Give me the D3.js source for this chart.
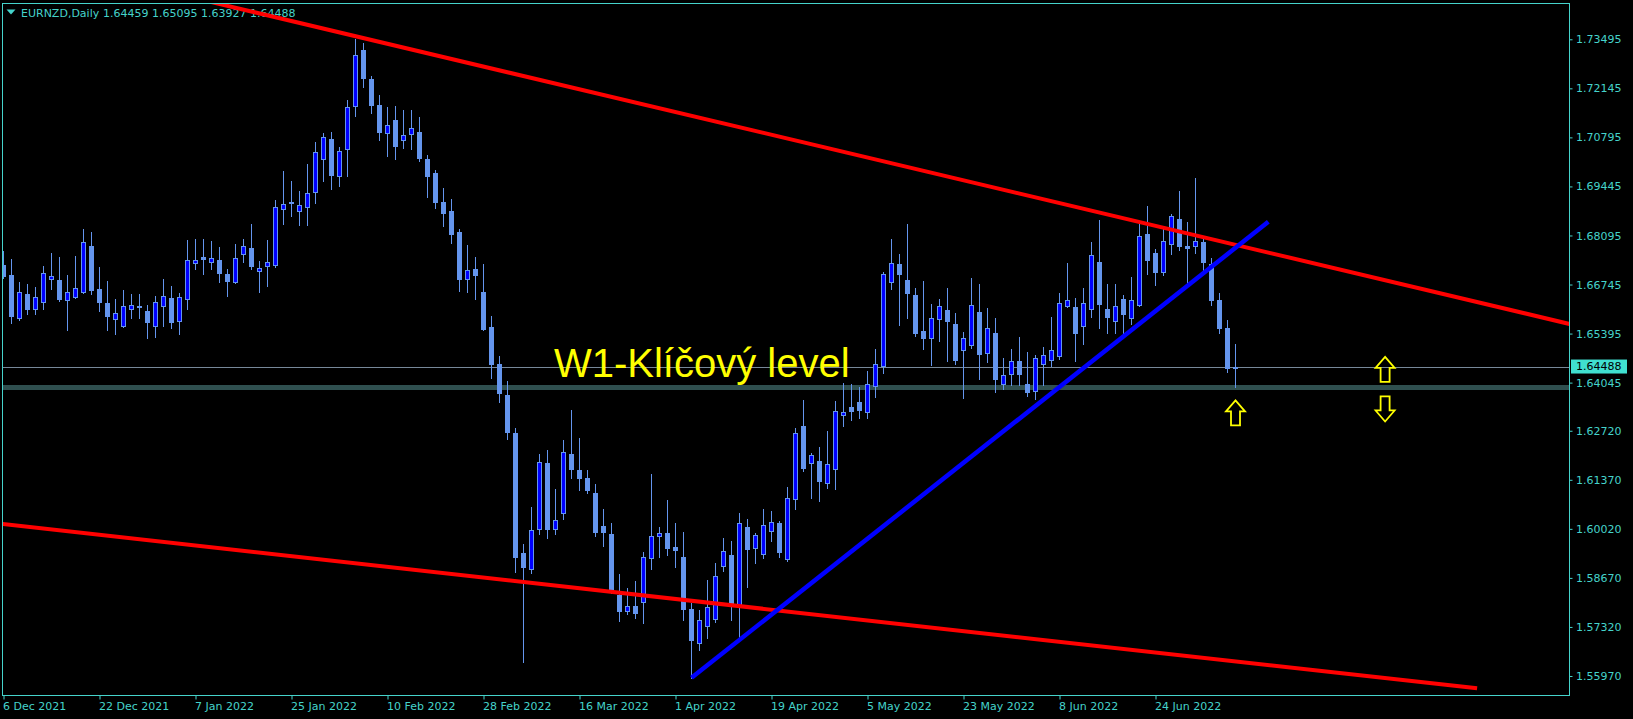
<!DOCTYPE html>
<html><head><meta charset="utf-8">
<script src="https://cdn.jsdelivr.net/npm/d3@7"></script>
<style>html,body{margin:0;padding:0;background:#000;overflow:hidden}</style>
</head><body>
<svg id="chart" width="1633" height="719"></svg>
<script>
// ---------------- data ----------------
const symbolTitle = "EURNZD,Daily";
const lastBar = [1.64459, 1.65095, 1.63927, 1.64488];
const open = [1.6728,1.6701,1.6581,1.6649,1.6608,1.6626,1.6691,1.6687,1.6631,1.6639,
1.6655,1.6781,1.6662,1.6624,1.6579,1.6560,1.6606,1.6615,1.6602,1.6560,
1.6616,1.6637,1.6573,1.6636,1.6735,1.6750,1.6737,1.6741,1.6703,1.6682,
1.6759,1.6775,1.6711,1.6725,1.6729,1.6882,1.6902,1.6876,1.6887,1.6930,
1.7019,1.7075,1.6974,1.7047,1.7165,1.7320,1.7240,1.7169,1.7091,1.7127,
1.7071,1.7088,1.7094,1.7020,1.6982,1.6902,1.6877,1.6819,1.6691,1.6717,
1.6654,1.6558,1.6456,1.6370,1.6266,1.5936,1.5892,1.6001,1.6183,1.6001,
1.6045,1.6208,1.6164,1.6142,1.6101,1.6010,1.5988,1.5820,1.5777,1.5790,
1.5800,1.5921,1.5981,1.5990,1.5952,1.5925,1.5781,1.5689,1.5735,1.5755,
1.5899,1.5930,1.5792,1.6006,1.5950,1.5932,1.5995,1.6017,1.5918,1.6083,
1.6285,1.6182,1.6189,1.6127,1.6166,1.6315,1.6338,1.6351,1.6324,1.6394,
1.6450,1.6681,1.6731,1.6687,1.6646,1.6547,1.6526,1.6579,1.6604,1.6566,
1.6494,1.6507,1.6599,1.6485,1.6540,1.6400,1.6428,1.6463,1.6401,1.6381,
1.6455,1.6466,1.6477,1.6615,1.6613,1.6560,1.6606,1.6736,1.6607,1.6573,
1.6634,1.6582,1.6619,1.6814,1.6760,1.6708,1.6785,1.6854,1.6780,1.6780,
1.6792,1.6731,1.6632,1.6555,1.64459];
const high = [1.6767,1.6745,1.6682,1.6676,1.6668,1.6726,1.6761,1.6750,1.6701,1.6753,
1.6827,1.6819,1.6723,1.6684,1.6635,1.6660,1.6649,1.6649,1.6618,1.6643,
1.6690,1.6671,1.6651,1.6797,1.6800,1.6800,1.6794,1.6778,1.6717,1.6786,
1.6800,1.6841,1.6739,1.6797,1.6907,1.6987,1.6959,1.6932,1.7006,1.7067,
1.7091,1.7094,1.7053,1.7183,1.7350,1.7339,1.7249,1.7196,1.7162,1.7166,
1.7155,1.7155,1.7136,1.7031,1.6990,1.6940,1.6910,1.6827,1.6783,1.6750,
1.6731,1.6588,1.6478,1.6409,1.6279,1.5960,1.6062,1.6208,1.6219,1.6112,
1.6247,1.6329,1.6252,1.6164,1.6126,1.6057,1.6018,1.5878,1.5839,1.5858,
1.5938,1.6153,1.6007,1.6081,1.6017,1.5993,1.5798,1.5779,1.5861,1.5908,
1.5977,1.5969,1.6046,1.6029,1.5990,1.6057,1.6051,1.6023,1.6117,1.6280,
1.6357,1.6211,1.6227,1.6271,1.6354,1.6403,1.6401,1.6393,1.6437,1.6497,
1.6709,1.6800,1.6759,1.6841,1.6665,1.6684,1.6621,1.6635,1.6665,1.6596,
1.6544,1.6692,1.6676,1.6610,1.6582,1.6472,1.6497,1.6530,1.6489,1.6481,
1.6503,1.6585,1.6650,1.6733,1.6637,1.6665,1.6792,1.6852,1.6675,1.6675,
1.6646,1.6695,1.6849,1.6891,1.6772,1.6836,1.6869,1.6932,1.6847,1.6968,
1.6808,1.6748,1.6651,1.6577,1.65095];
const low = [1.6692,1.6569,1.6578,1.6593,1.6594,1.6608,1.6662,1.6629,1.6548,1.6637,
1.6651,1.6649,1.6603,1.6550,1.6537,1.6558,1.6583,1.6583,1.6526,1.6531,
1.6561,1.6555,1.6539,1.6608,1.6717,1.6704,1.6718,1.6682,1.6644,1.6678,
1.6737,1.6718,1.6655,1.6671,1.6724,1.6842,1.6863,1.6838,1.6838,1.6900,
1.6960,1.6938,1.6947,1.6974,1.7137,1.7219,1.7148,1.7073,1.7029,1.7021,
1.7051,1.7048,1.7015,1.6916,1.6886,1.6836,1.6790,1.6658,1.6655,1.6636,
1.6549,1.6418,1.6352,1.6250,1.5884,1.5636,1.5880,1.5989,1.5978,1.5989,
1.6030,1.6142,1.6110,1.6102,1.5983,1.5956,1.5825,1.5749,1.5768,1.5757,
1.5744,1.5891,1.5925,1.5929,1.5898,1.5752,1.5592,1.5669,1.5701,1.5746,
1.5886,1.5752,1.5701,1.5843,1.5909,1.5922,1.5969,1.5925,1.5913,1.6056,
1.6161,1.6088,1.6078,1.6115,1.6111,1.6286,1.6302,1.6307,1.6307,1.6366,
1.6432,1.6663,1.6564,1.6583,1.6534,1.6498,1.6454,1.6520,1.6465,1.6457,
1.6363,1.6500,1.6415,1.6462,1.6380,1.6388,1.6398,1.6398,1.6369,1.6360,
1.6397,1.6451,1.6470,1.6613,1.6465,1.6512,1.6584,1.6556,1.6542,1.6542,
1.6536,1.6565,1.6616,1.6704,1.6673,1.6701,1.6759,1.6770,1.6674,1.6761,
1.6714,1.6618,1.6541,1.6434,1.63927];
const close = [1.6698,1.6588,1.6653,1.6607,1.6639,1.6705,1.6697,1.6635,1.6653,1.6664,
1.6791,1.6660,1.6627,1.6589,1.6595,1.6615,1.6617,1.6613,1.6570,1.6626,
1.6642,1.6570,1.6639,1.6741,1.6741,1.6745,1.6747,1.6707,1.6684,1.6747,
1.6780,1.6726,1.6719,1.6736,1.6887,1.6895,1.6900,1.6893,1.6926,1.7039,
1.7080,1.6977,1.7041,1.7162,1.7306,1.7244,1.7170,1.7095,1.7113,1.7057,
1.7085,1.7105,1.7024,1.6974,1.6903,1.6872,1.6814,1.6691,1.6714,1.6701,
1.6552,1.6457,1.6377,1.6269,1.5924,1.5898,1.5998,1.6186,1.6001,1.6026,
1.6214,1.6167,1.6142,1.6110,1.5994,1.5994,1.5829,1.5777,1.5789,1.5771,
1.5924,1.5982,1.5990,1.5950,1.5945,1.5782,1.5696,1.5751,1.5786,1.5871,
1.5940,1.5799,1.6017,1.5947,1.5984,1.6012,1.6020,1.5939,1.6086,1.6265,
1.6170,1.6205,1.6135,1.6180,1.6326,1.6325,1.6326,1.6329,1.6400,1.6455,
1.6703,1.6733,1.6704,1.6652,1.6542,1.6528,1.6582,1.6616,1.6575,1.6468,
1.6527,1.6617,1.6484,1.6555,1.6415,1.6425,1.6463,1.6428,1.6380,1.6472,
1.6480,1.6494,1.6623,1.6631,1.6542,1.6623,1.6755,1.6622,1.6586,1.6615,
1.6594,1.6631,1.6807,1.6743,1.6710,1.6794,1.6862,1.6781,1.6776,1.6794,
1.6736,1.6632,1.6555,1.6445,1.64488];

const dateTickIndex = [0,12,24,36,48,60,72,84,96,108,120,132,144];
const dateTickLabels = ["6 Dec 2021","22 Dec 2021","7 Jan 2022","25 Jan 2022","10 Feb 2022","28 Feb 2022",
  "16 Mar 2022","1 Apr 2022","19 Apr 2022","5 May 2022","23 May 2022","8 Jun 2022","24 Jun 2022"];
const priceTicks = [1.73495,1.72145,1.70795,1.69445,1.68095,1.66745,1.65395,1.64045,1.62720,1.61370,1.60020,1.58670,1.57320,1.55970];
const priceTickLabels = ["1.73495","1.72145","1.70795","1.69445","1.68095","1.66745","1.65395","1.64045","1.62720","1.61370","1.60020","1.58670","1.57320","1.55970"];

const bidPrice = 1.64488;
const keyLevel = 1.6391;
const keyLevelText = "W1-Klíčový level";
const keyLevelTextAnchor = [68.8, 1.6419];
const upperTrend = [[44, 1.7358], [190, 1.6596]];
const lowerTrend = [[0, 1.6015], [184.2, 1.5563]];
const supportTrend = [[86, 1.5592], [158.1, 1.6847]];
const arrowIdx = [154, 172.7, 172.7];
const arrowPrice = [1.6321, 1.6441, 1.6332];
const arrowDir = ["up", "up", "down"];

// ---------------- layout ----------------
const W = 1633, H = 719;
const plot = {left: 2.5, top: 3.5, right: 1569.5, bottom: 695.5};
const FG = "#45D3CB";
const BULL = "#0000FF", WICK = "#6495ED";

const x = d3.scaleLinear().domain([-0.1875, 195.75]).range([2, 1569.5]);
const y = d3.scaleLinear().domain([1.55447, 1.74494]).range([695, 3]);

const svg = d3.select("#chart");
svg.append("rect").attr("width", W).attr("height", H).attr("fill", "#000");

svg.append("defs").append("clipPath").attr("id", "plotClip")
  .append("rect").attr("x", 3).attr("y", 4).attr("width", 1566).attr("height", 691);

// header
svg.append("path").attr("d", "M6.5,9.5 L15.5,9.5 L11,14.5 Z").attr("fill", FG);
svg.append("text").attr("x", 21).attr("y", 16.5).attr("fill", FG)
  .attr("font-family", "DejaVu Sans").attr("font-size", 11).text(symbolTitle);
svg.append("text").attr("x", 103).attr("y", 16.5).attr("fill", FG)
  .attr("font-family", "DejaVu Sans").attr("font-size", 11)
  .text(lastBar.map(v => v.toFixed(5)).join(" "));

const g = svg.append("g").attr("clip-path", "url(#plotClip)");

// horizontal levels (background)
g.append("line").attr("x1", plot.left).attr("x2", plot.right)
  .attr("y1", y(keyLevel)).attr("y2", y(keyLevel))
  .attr("stroke", "#2F4F4F").attr("stroke-width", 5);
g.append("line").attr("x1", plot.left).attr("x2", plot.right)
  .attr("y1", Math.round(y(bidPrice)) + 0.5).attr("y2", Math.round(y(bidPrice)) + 0.5)
  .attr("stroke", "#778899").attr("stroke-width", 1);

// candles
const candles = open.map((o, i) => ({i, o, h: high[i], l: low[i], c: close[i]}));
g.selectAll("line.wick").data(candles).join("line").attr("class", "wick")
  .attr("x1", d => x(d.i)).attr("x2", d => x(d.i))
  .attr("y1", d => Math.round(y(d.h))).attr("y2", d => Math.round(y(d.l)) + 1)
  .attr("stroke", WICK).attr("stroke-width", 1);
g.selectAll("rect.body").data(candles).join("rect").attr("class", "body")
  .attr("x", d => x(d.i) - 2).attr("width", 4)
  .attr("y", d => Math.round(y(Math.max(d.o, d.c))) + 0.5)
  .attr("height", d => Math.max(0, Math.round(y(Math.min(d.o, d.c))) - Math.round(y(Math.max(d.o, d.c)))))
  .attr("fill", d => d.c > d.o ? BULL : WICK)
  .attr("stroke", WICK).attr("stroke-width", 1);

// trend lines
function priceOn(anchors, i) {
  const [[i1, p1], [i2, p2]] = anchors;
  return p1 + (p2 - p1) * (i - i1) / (i2 - i1);
}
function drawTrend(anchors, iStart, iEnd, color, width) {
  g.append("line")
    .attr("x1", x(iStart)).attr("y1", y(priceOn(anchors, iStart)))
    .attr("x2", x(iEnd)).attr("y2", y(priceOn(anchors, iEnd)))
    .attr("stroke", color).attr("stroke-width", width);
}
drawTrend(upperTrend, -2, 200, "#FF0000", 4);
drawTrend(lowerTrend, -2, lowerTrend[1][0], "#FF0000", 4);
drawTrend(supportTrend, supportTrend[0][0], supportTrend[1][0], "#0000FF", 4.5);

// key level text
g.append("text").attr("x", x(keyLevelTextAnchor[0])).attr("y", y(keyLevelTextAnchor[1]))
  .attr("font-family", "Liberation Sans, Arial, sans-serif").attr("font-size", 40)
  .attr("fill", "#FFFF00").text(keyLevelText);

// arrows
const upPts = [[0,-12.5],[9.5,-1.5],[4.5,-1.5],[4.5,12.5],[-4.5,12.5],[-4.5,-1.5],[-9.5,-1.5]];
arrowIdx.forEach((ai, k) => {
  const s = arrowDir[k] === "up" ? 1 : -1;
  const cx = x(ai), cy = y(arrowPrice[k]);
  const d = "M" + upPts.map(p => (cx + p[0]) + "," + (cy + s * p[1])).join("L") + "Z";
  g.append("path").attr("d", d).attr("fill", "none").attr("stroke", "#FFFF00")
    .attr("stroke-width", 1.8).attr("stroke-linejoin", "miter");
});

// frame
svg.append("rect").attr("x", plot.left).attr("y", plot.top)
  .attr("width", plot.right - plot.left).attr("height", plot.bottom - plot.top)
  .attr("fill", "none").attr("stroke", FG).attr("stroke-width", 1);

// price axis
const yAxis = d3.axisRight(y).tickValues(priceTicks)
  .tickFormat((d, k) => priceTickLabels[k]).tickSize(3).tickPadding(3.5);
const ya = svg.append("g").attr("transform", `translate(${plot.right},0)`).call(yAxis);
ya.select(".domain").remove();
ya.selectAll("line").attr("stroke", FG);
ya.selectAll("text").attr("fill", FG).attr("font-family", "DejaVu Sans").attr("font-size", 11);

// date axis
const xAxis = d3.axisBottom(x).tickValues(dateTickIndex)
  .tickFormat((d, k) => dateTickLabels[k]).tickSize(4).tickPadding(3);
const xa = svg.append("g").attr("transform", `translate(0,${plot.bottom})`).call(xAxis);
xa.select(".domain").remove();
xa.selectAll("line").attr("stroke", FG);
xa.selectAll("text").attr("fill", FG).attr("font-family", "DejaVu Sans").attr("font-size", 11)
  .attr("text-anchor", "start").attr("dx", -1);

// bid price label box
const by = y(bidPrice);
svg.append("rect").attr("x", 1571).attr("y", by - 7).attr("width", 56).attr("height", 14).attr("fill", "#40E0D0");
svg.append("text").attr("x", 1576).attr("y", by).attr("dy", "0.35em").attr("fill", "#000")
  .attr("font-family", "DejaVu Sans").attr("font-size", 11).text(bidPrice.toFixed(5));
</script>
</body></html>
